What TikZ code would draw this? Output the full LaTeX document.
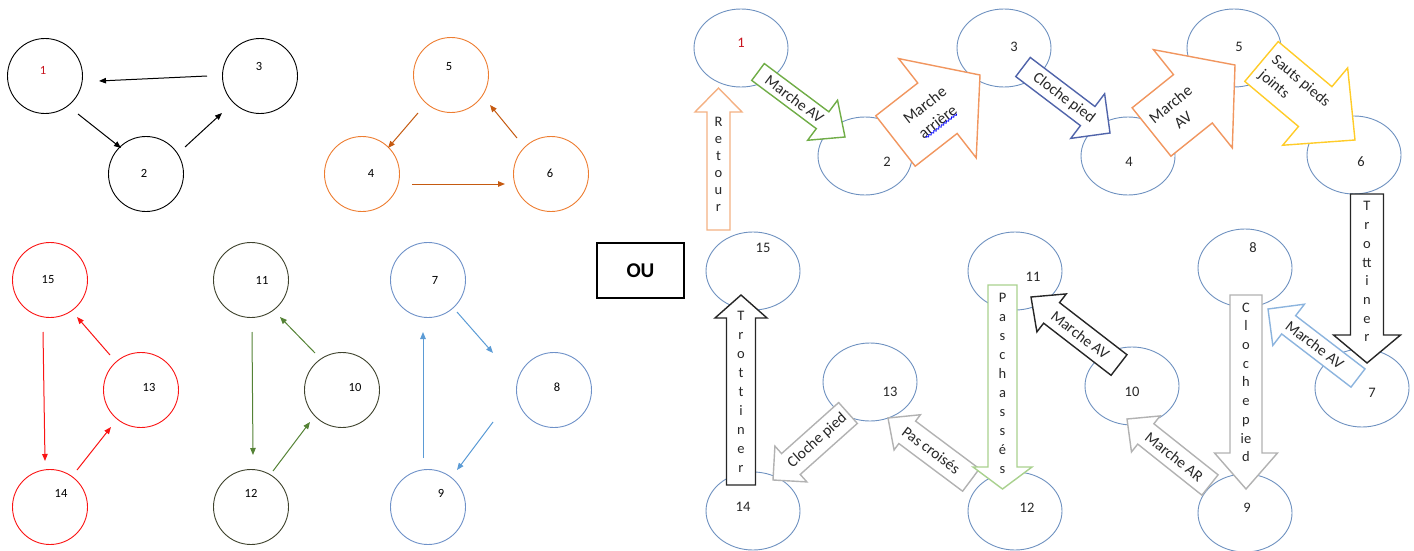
\documentclass[tikz,border=0pt]{standalone}
\usepackage{fontspec}
\setmainfont{Carlito}
\usetikzlibrary{shapes.geometric,calc,arrows.meta,decorations.pathmorphing}
\definecolor{ellc}{RGB}{110,145,192}
\definecolor{txt}{RGB}{40,40,40}
\definecolor{cgreen}{RGB}{112,173,71}
\definecolor{corange}{RGB}{241,150,95}
\definecolor{cblue}{RGB}{80,100,170}
\definecolor{cyellow}{RGB}{255,204,40}
\definecolor{clblue}{RGB}{140,180,222}
\definecolor{cgrey}{RGB}{178,178,178}
\definecolor{clgreen}{RGB}{169,209,142}
\definecolor{cretour}{RGB}{244,177,131}
\definecolor{lorange}{RGB}{237,125,49}
\definecolor{lorangea}{RGB}{197,90,17}
\definecolor{lred}{RGB}{250,20,20}
\definecolor{lolive}{RGB}{62,66,44}
\definecolor{lgreen}{RGB}{84,130,53}
\definecolor{lbluec}{RGB}{110,145,200}
\definecolor{lbluea}{RGB}{91,155,213}
\definecolor{numred}{RGB}{200,20,30}
\tikzset{
  lcirc/.style={circle, draw, minimum size=75pt, inner sep=0pt, line width=0.9pt},
  llab/.style={font=\fontsize{12.5}{14}\selectfont, inner sep=0pt},
  larr/.style={line width=1pt, -{Triangle[length=7pt,width=5.5pt]}},
  rell/.style={ellipse, draw=ellc, fill=white, line width=0.9pt, minimum width=94pt, minimum height=78pt, inner sep=0pt},
  rlab/.style={font=\fontsize{14.5}{16}\selectfont, text=txt, inner sep=0pt},
  atext/.style={font=\fontsize{15.5}{19}\selectfont, text=txt, inner sep=0pt},
  vtext/.style={font=\fontsize{14.5}{18.7}\selectfont, text=txt, align=center, inner sep=0pt},
  barr/.style={fill=white, line width=1.4pt, line join=miter},
}
\newcommand{\barrow}[8]{%
  \coordinate (#2b) at ($(#2)!#5pt!(#1)$);
  \draw[barr,#6] ($(#1)!#3pt!90:(#2)$) -- ($(#2b)!#3pt!90:(#2)$) -- ($(#2b)!#4pt!90:(#2)$) -- (#2) -- ($(#2b)!#4pt!-90:(#2)$) -- ($(#2b)!#3pt!-90:(#2)$) -- ($(#1)!#3pt!-90:(#2)$) -- cycle;
  \path (#1) -- (#2) node[atext,#7] (#2n) {#8};
}
\begin{document}
\begin{tikzpicture}[x=1pt,y=-1pt]
\useasboundingbox (0,0) rectangle (1414,551);
% ---------- left: black group
\node[lcirc] (c1) at (45,76) {};
\node[lcirc] (c2) at (146,174) {};
\node[lcirc] (c3) at (260,76) {};
\node[llab,text=numred] (n1) at (43,70) {1};
\node[llab] (n2) at (144,173) {2};
\node[llab] (n3) at (259,66) {3};
\coordinate (a31s) at (207,76); \coordinate (a31e) at (99,81);
\coordinate (a12s) at (78,114); \coordinate (a12e) at (121,148);
\coordinate (a23s) at (185,147); \coordinate (a23e) at (222,113);
\draw[larr] (a31s) -- (a31e);
\draw[larr] (a12s) -- (a12e);
\draw[larr] (a23s) -- (a23e);
% ---------- orange group
\node[lcirc,draw=lorange] (c5) at (451,75) {};
\node[lcirc,draw=lorange] (c4) at (362,174) {};
\node[lcirc,draw=lorange] (c6) at (551,174) {};
\node[llab] (n5) at (449,67) {5};
\node[llab] (n4) at (371,173) {4};
\node[llab] (n6) at (550,173) {6};
\coordinate (a54s) at (418,113); \coordinate (a54e) at (388,148);
\coordinate (a46s) at (412,184); \coordinate (a46e) at (505,184);
\coordinate (a65s) at (517,138); \coordinate (a65e) at (490,105);
\draw[larr,lorangea] (a54s) -- (a54e);
\draw[larr,lorangea] (a46s) -- (a46e);
\draw[larr,lorangea] (a65s) -- (a65e);
% ---------- red group
\node[lcirc,draw=lred] (c15) at (50,280) {};
\node[lcirc,draw=lred] (c13) at (141,390) {};
\node[lcirc,draw=lred] (c14) at (50,507) {};
\node[llab] (n15) at (48,280) {15};
\node[llab] (n13) at (149,387) {13};
\node[llab] (n14) at (61,493) {14};
\coordinate (a1514s) at (43,332); \coordinate (a1514e) at (45,461);
\coordinate (a1315s) at (110,355); \coordinate (a1315e) at (77,317);
\coordinate (a1413s) at (77,470); \coordinate (a1413e) at (111,427);
\draw[larr,lred] (a1514s) -- (a1514e);
\draw[larr,lred] (a1315s) -- (a1315e);
\draw[larr,lred] (a1413s) -- (a1413e);
% ---------- green group
\node[lcirc,draw=lolive] (c11) at (251,280) {};
\node[lcirc,draw=lolive] (c10) at (342,390) {};
\node[lcirc,draw=lolive] (c12) at (251,507) {};
\node[llab] (n11) at (262,280) {11};
\node[llab] (n10) at (355,387) {10};
\node[llab] (n12) at (251,493) {12};
\coordinate (a1112s) at (252,332); \coordinate (a1112e) at (253,455);
\coordinate (a1011s) at (315,353); \coordinate (a1011e) at (280,317);
\coordinate (a1210s) at (273,471); \coordinate (a1210e) at (310,422);
\draw[larr,lgreen] (a1112s) -- (a1112e);
\draw[larr,lgreen] (a1011s) -- (a1011e);
\draw[larr,lgreen] (a1210s) -- (a1210e);
% ---------- blue group
\node[lcirc,draw=lbluec] (c7) at (428,280) {};
\node[lcirc,draw=lbluec] (c8) at (554,390) {};
\node[lcirc,draw=lbluec] (c9) at (428,507) {};
\node[llab] (n7) at (435,280) {7};
\node[llab] (n8) at (557,387) {8};
\node[llab] (n9) at (441,493) {9};
\coordinate (a78s) at (457,312); \coordinate (a78e) at (493,353);
\coordinate (a89s) at (493,422); \coordinate (a89e) at (457,470);
\coordinate (a97s) at (423,458); \coordinate (a97e) at (423,332);
\draw[larr,lbluea] (a78s) -- (a78e);
\draw[larr,lbluea] (a89s) -- (a89e);
\draw[larr,lbluea] (a97s) -- (a97e);
% ---------- OU
\node[draw, line width=1.5pt, minimum width=87pt, minimum height=55pt, inner sep=0pt,
      font=\fontsize{21}{24}\selectfont\bfseries] (ou) at (640.5,270.5) {OU};
% ---------- right: ellipses
\node[rell] (e1) at (741,48) {};
\node[rell] (e2) at (865,156) {};
\node[rell] (e3) at (1004,48) {};
\node[rell] (e4) at (1128,156) {};
\node[rell] (e5) at (1234,48) {};
\node[rell] (e6) at (1354,155) {};
\node[rell] (e15) at (753,271) {};
\node[rell] (e13) at (870,382) {};
\node[rell] (e14) at (753,511) {};
\node[rell] (e11) at (1015,271) {};
\node[rell] (e12) at (1015,511) {};
\node[rell] (e10) at (1132,386) {};
\node[rell] (e8) at (1245,268) {};
\node[rell] (e9) at (1245,513) {};
\node[rell] (e7) at (1362,388) {};
\node[rlab,text=numred] (m1) at (741,43) {1};
\node[rlab] (m2) at (887,162) {2};
\node[rlab] (m3) at (1014,47) {3};
\node[rlab] (m4) at (1129,162) {4};
\node[rlab] (m5) at (1239,47) {5};
\node[rlab] (m6) at (1361,162) {6};
\node[rlab] (m15) at (763,248) {15};
\node[rlab] (m13) at (890,392) {13};
\node[rlab] (m14) at (743,507) {14};
\node[rlab] (m11) at (1033,277) {11};
\node[rlab] (m12) at (1027,508) {12};
\node[rlab] (m10) at (1132,392) {10};
\node[rlab] (m8) at (1253,248) {8};
\node[rlab] (m9) at (1247,508) {9};
\node[rlab] (m7) at (1372,393) {7};
% ---------- block arrows
\coordinate (s12) at (758,72);   \coordinate (t12) at (845,137);
\coordinate (s23) at (895.5,141); \coordinate (t23) at (980,75);
\coordinate (s34) at (1023,67);  \coordinate (t34) at (1110,133);
\coordinate (s45) at (1151.5,132); \coordinate (t45) at (1235,65);
\coordinate (s56) at (1261.5,61.5); \coordinate (t56) at (1355,140);
\coordinate (s67) at (1367,194); \coordinate (t67) at (1367,363);
\coordinate (s78) at (1358,378); \coordinate (t78) at (1268,309);
\coordinate (s89) at (1246,295); \coordinate (t89) at (1246,489);
\coordinate (s910) at (1210,485); \coordinate (t910) at (1127,419);
\coordinate (s1011) at (1119,365); \coordinate (t1011) at (1031,297);
\coordinate (s1112) at (1002.5,285); \coordinate (t1112) at (1002.5,489);
\coordinate (s1213) at (971,480); \coordinate (t1213) at (888,418);
\coordinate (s1314) at (848,413); \coordinate (t1314) at (773,480);
\coordinate (s1415) at (741,485); \coordinate (t1415) at (741,295);
\coordinate (s151) at (718.5,230); \coordinate (t151) at (718.5,88);
\barrow{s12}{t12}{10.5}{25}{28}{draw=cgreen}{pos=0.42,sloped}{Marche AV}
\barrow{s23}{t23}{32}{63}{54}{draw=corange}{pos=0.42,sloped,align=center,font=\fontsize{16}{21}\selectfont}{Marche\\arrière}
\draw[blue, line width=0.8pt, decorate, decoration={snake, segment length=3.2pt, amplitude=0.9pt}]
  ($(t23n.south west)!0.12!(t23n.south east)$) -- ($(t23n.south west)!0.9!(t23n.south east)$);
\barrow{s34}{t34}{12}{28}{28}{draw=cblue}{pos=0.47,sloped}{Cloche pied}
\barrow{s45}{t45}{31}{63}{54}{draw=corange}{pos=0.3,sloped,align=center,font=\fontsize{16}{20}\selectfont}{Marche\\AV}
\barrow{s56}{t56}{26}{50.5}{52}{draw=cyellow}{pos=0.35,sloped,align=left,font=\fontsize{15.5}{20}\selectfont}{Sauts pieds\\joints}
\barrow{s78}{t78}{11.5}{26}{26}{draw=clblue}{pos=0.48,sloped}{Marche AV}
\barrow{s67}{t67}{16.5}{33.5}{28}{draw=black!85}{pos=0.46,vtext}{T\\r\\o\\tt\\i\\n\\e\\r}
\barrow{s910}{t910}{13}{23}{24}{draw=cgrey}{pos=0.43,sloped}{Marche AR}
\barrow{s89}{t89}{16}{31.5}{36}{draw=cgrey}{pos=0.45,vtext}{C\\l\\o\\c\\h\\e\\p\\ie\\d}
\barrow{s1011}{t1011}{13}{24}{26}{draw=black!85}{pos=0.44,sloped}{Marche AV}
\barrow{s1213}{t1213}{14}{22}{24}{draw=cgrey}{pos=0.48,sloped}{Pas croisés}
\barrow{s1112}{t1112}{14.5}{29.5}{22}{draw=clgreen}{pos=0.48,vtext,font=\fontsize{14.5}{19}\selectfont}{P\\a\\s\\c\\h\\a\\s\\s\\é\\s}
\barrow{s1314}{t1314}{14}{24}{24}{draw=cgrey}{pos=0.41,sloped}{Cloche pied}
\barrow{s1415}{t1415}{14.5}{26}{23}{draw=black!85}{pos=0.49,vtext,font=\fontsize{14.5}{19.1}\selectfont}{T\\r\\o\\t\\t\\i\\n\\e\\r}
\barrow{s151}{t151}{11.5}{23.5}{24}{draw=cretour}{pos=0.46,vtext,font=\fontsize{14.5}{17}\selectfont}{R\\e\\t\\o\\u\\r}
\end{tikzpicture}
\end{document}
